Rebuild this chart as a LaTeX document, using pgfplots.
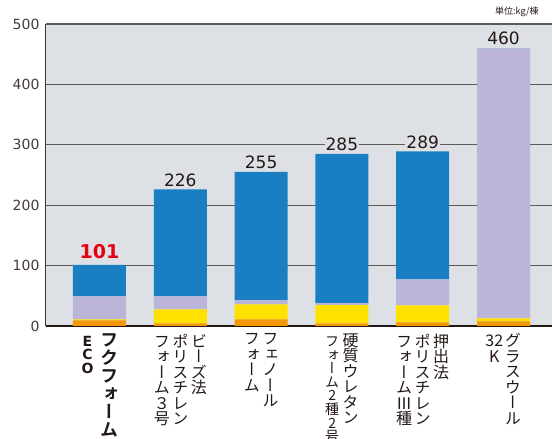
\documentclass[border=0pt]{standalone}
\usepackage{fontspec}
\setmainfont{DejaVu Sans}
\newfontfamily\jp[RawFeature=+vert, BoldFont={Noto Sans CJK JP Bold}]{Noto Sans CJK JP}
\newfontfamily\jph{Noto Sans CJK JP}
\usepackage{pgfplots}
\pgfplotsset{compat=1.18}
\definecolor{bg}{HTML}{DDE1E5}
\definecolor{cblue}{HTML}{1A7EC3}
\definecolor{clav}{HTML}{BBB5D9}
\definecolor{cyel}{HTML}{FFE100}
\definecolor{corg}{HTML}{F39800}
\definecolor{gridc}{HTML}{5F5A5A}
\definecolor{ink}{HTML}{231815}
\definecolor{cred}{HTML}{E60012}
\def\tcolx#1{\ifx\relax#1\else\hbox to 1em{\hss#1\hss}\expandafter\tcolx\fi}
\newcommand\tcol[2][15.5pt]{\vtop{\baselineskip=#1\relax\lineskiplimit=-100pt\lineskip=0pt\tcolx#2\relax}}
\begin{document}
\begin{tikzpicture}
\begin{axis}[at={(0,0)}, anchor=south west, scale only axis,
  width=506pt, height=302pt,
  ybar stacked, bar width=53pt,
  xmin=-0.662, xmax=5.6, ymin=0, ymax=500,
  xtick={0,...,5},
  xticklabels={
    {\hbox{\bfseries\fontsize{14}{14}\selectfont\tcol[13.3pt]{ECO}\hspace{6pt}\jp\fontsize{18}{18}\selectfont\tcol[18pt]{フクフォーム}}},
    {\hbox{\jp\fontsize{16}{16}\selectfont\tcol{フォーム３号}\hspace{2.5pt}\tcol{ポリスチレン}\hspace{2.5pt}\tcol{ビーズ法}}},
    {\hbox{\jp\fontsize{16}{16}\selectfont\tcol{フォーム}\hspace{2.5pt}\tcol{フェノール}}},
    {\hbox{\jp\fontsize{16}{16}\selectfont{\fontsize{14}{14}\selectfont\tcol[13.6pt]{フォーム2種2号}}\hspace{3.5pt}\tcol{硬質ウレタン}}},
    {\hbox{\jp\fontsize{16}{16}\selectfont\tcol{フォームⅢ種}\hspace{2.5pt}\tcol{ポリスチレン}\hspace{2.5pt}\tcol{押出法}}},
    {\hbox{\jp\fontsize{16}{16}\selectfont\tcol{{32}K}\hspace{2.5pt}\tcol{グラスウール}}}
  },
  ytick={0,100,...,500},
  major tick length=0pt,
  axis y line*=left, axis x line*=bottom,
  ymajorgrids, grid style={gridc, line width=1.1pt},
  axis background/.style={fill=bg},
  y axis line style={draw=gridc!60!black, line width=1pt},
  x axis line style={draw=ink, line width=1.3pt},
  /pgf/number format/assume math mode=true,
  yticklabel style={font=\fontsize{14}{14}\selectfont, text=ink!85, xshift=-3pt},
  xticklabel style={anchor=north, yshift=-7.5pt, inner sep=0pt, text=ink},
  ]
\addplot[fill=corg, draw=none] coordinates {(0,9.4) (1,4.5) (2,11) (3,4.5) (4,6) (5,7.8)};
\addplot[fill=cyel, draw=none] coordinates {(0,1.7) (1,23) (2,25) (3,30) (4,28) (5,5)};
\addplot[fill=clav, draw=none] coordinates {(0,37.9) (1,21.5) (2,6.6) (3,3.3) (4,43) (5,446.7)};
\addplot[fill=cblue, draw=none] coordinates {(0,52) (1,177) (2,212.4) (3,247.2) (4,212) (5,0.5)};
\draw[ink, line width=1.3pt] (rel axis cs:0,0) -- (rel axis cs:1,0);
\node[anchor=south, fill=bg, inner sep=1pt, yshift=5pt, font=\bfseries\fontsize{19}{19}\selectfont, text=cred] at (axis cs:0,101) {101};
\node[anchor=south, fill=bg, inner sep=1pt, yshift=2pt, font=\fontsize{17}{17}\selectfont, text=ink] at (axis cs:1,226) {226};
\node[anchor=south, fill=bg, inner sep=1pt, yshift=2pt, font=\fontsize{17}{17}\selectfont, text=ink] at (axis cs:2,255) {255};
\node[anchor=south, fill=bg, inner sep=1pt, yshift=2pt, font=\fontsize{17}{17}\selectfont, text=ink] at (axis cs:3,285) {285};
\node[anchor=south, fill=bg, inner sep=1pt, yshift=2pt, font=\fontsize{17}{17}\selectfont, text=ink] at (axis cs:4,289) {289};
\node[anchor=south, fill=bg, inner sep=1pt, yshift=2pt, font=\fontsize{17}{17}\selectfont, text=ink] at (axis cs:5,460) {460};
\end{axis}
\node[anchor=west, inner sep=0pt, font=\jph\fontsize{9}{9}\selectfont, text=ink] at (449pt,314pt) {単位:kg/棟};
\pgfresetboundingbox
\useasboundingbox (-46pt,-113pt) rectangle (506pt,326pt);
\end{tikzpicture}
\end{document}
